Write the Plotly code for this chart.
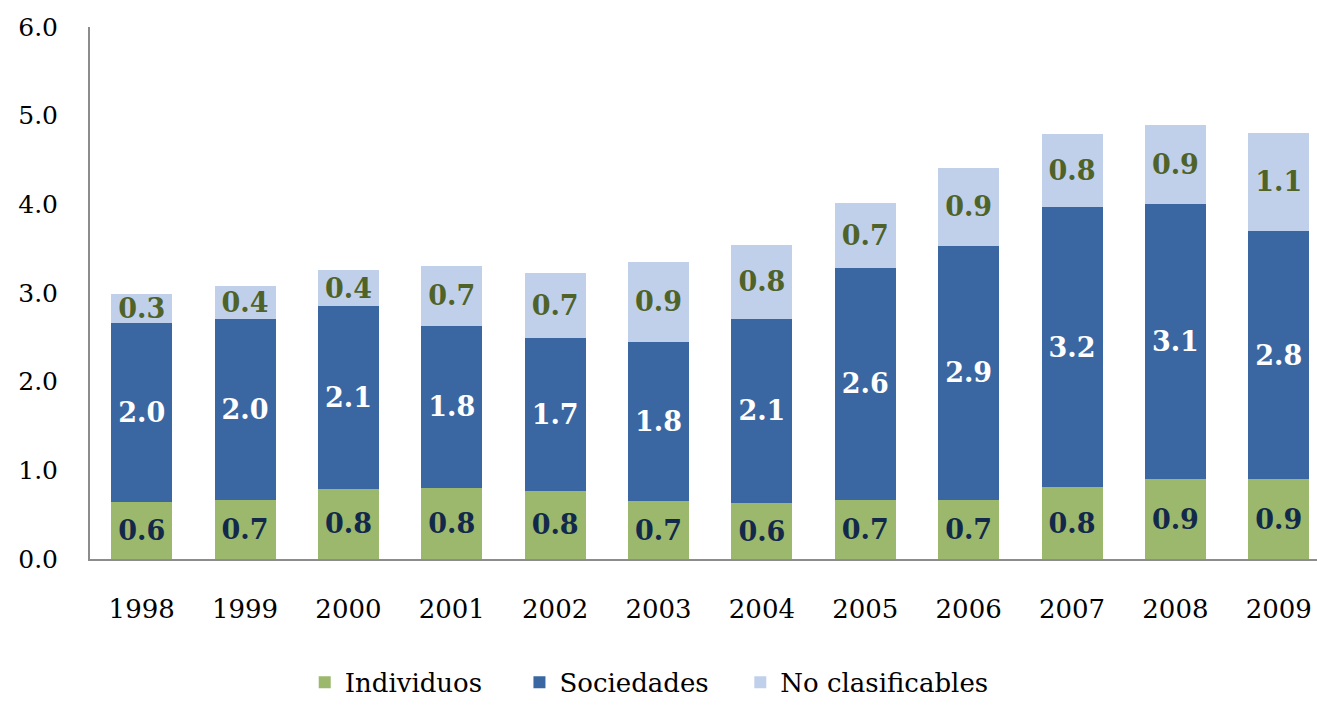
import plotly.graph_objects as go

years = ["1998", "1999", "2000", "2001", "2002", "2003", "2004", "2005", "2006", "2007", "2008", "2009"]
individuos = [0.64, 0.67, 0.79, 0.80, 0.77, 0.65, 0.63, 0.67, 0.67, 0.81, 0.90, 0.90]
sociedades = [2.02, 2.04, 2.06, 1.83, 1.72, 1.80, 2.08, 2.61, 2.86, 3.16, 3.10, 2.80]
no_clasificables = [0.33, 0.37, 0.41, 0.68, 0.73, 0.90, 0.83, 0.74, 0.88, 0.82, 0.89, 1.11]
y_ticks = [0, 1, 2, 3, 4, 5, 6]

FONT = "'DejaVu Serif', Georgia, serif"

series = [
    ("Individuos", individuos, "#9cb86c", "#13294b", "legend", 0.175),
    ("Sociedades", sociedades, "#3a67a2", "#ffffff", "legend2", 0.350),
    ("No clasificables", no_clasificables, "#c0d0eb", "#4f6228", "legend3", 0.530),
]

fig = go.Figure()
legends = {}
for name, vals, color, tcolor, leg, lx in series:
    fig.add_trace(go.Bar(
        x=years, y=vals, name=name, legend=leg,
        marker=dict(color=color, line=dict(width=0)),
        texttemplate="<b>%{y:.1f}</b>",
        textposition="inside", insidetextanchor="middle",
        textangle=0, constraintext="none",
        textfont=dict(family=FONT, size=27, color=tcolor),
    ))
    legends[leg] = dict(orientation="h", x=lx, xanchor="left", yref="container", y=0.032,
                        yanchor="middle", font=dict(family=FONT, size=26, color="black"),
                        borderwidth=0, bgcolor="rgba(0,0,0,0)")

fig.update_layout(
    barmode="stack", bargap=0.41,
    width=1317, height=705,
    margin=dict(l=90, r=0, t=27, b=146, autoexpand=False),
    plot_bgcolor="white", paper_bgcolor="white",
    font=dict(family=FONT, color="black"),
    showlegend=True,
    **legends,
    xaxis=dict(range=[-0.5, 11.37], showline=True, linecolor="#8c8c8c", linewidth=2,
               ticks="", tickfont=dict(family=FONT, size=26), ticklabelstandoff=26,
               showgrid=False, zeroline=False),
    yaxis=dict(range=[0, 6], tickvals=y_ticks, tickformat=".1f", showline=True,
               linecolor="#8c8c8c", linewidth=2, ticks="", showgrid=False, zeroline=False,
               tickfont=dict(family=FONT, size=25), ticklabelstandoff=25),
)

fig.write_html("out.html")
